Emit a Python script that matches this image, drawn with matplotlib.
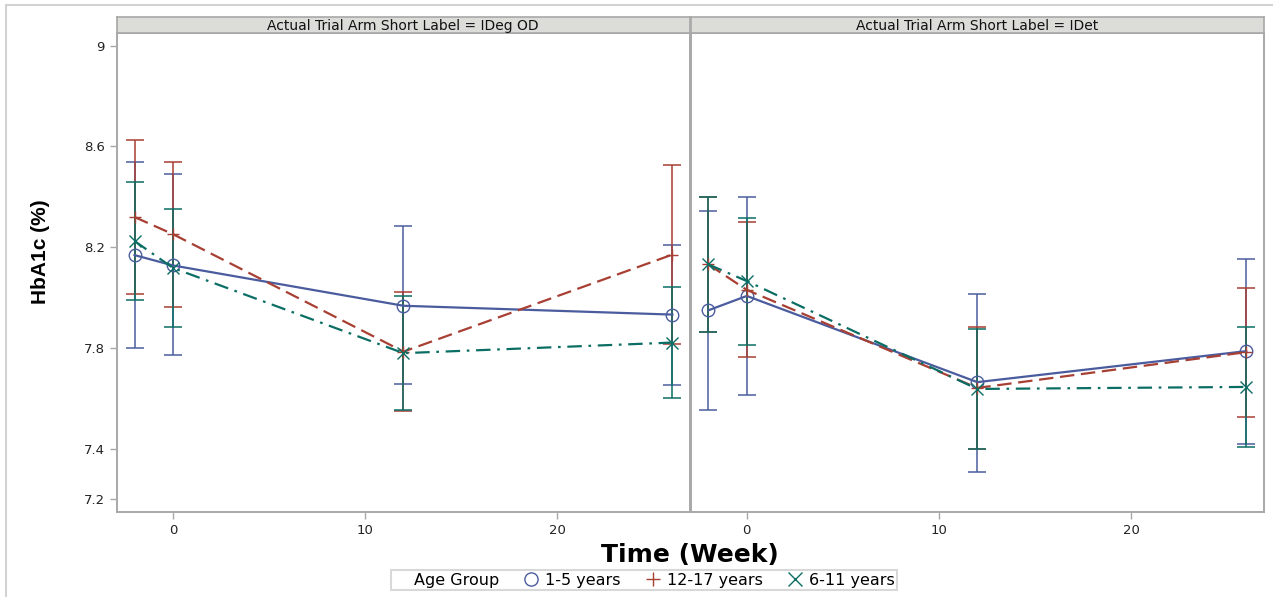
import matplotlib.pyplot as plt
from matplotlib.lines import Line2D
from matplotlib.patches import Rectangle

weeks = [-2, 0, 12, 26]
groups = ['1-5 years', '12-17 years', '6-11 years']
arms = ['IDeg OD', 'IDet']

# HbA1c mean and 95% CI per age group (rows follow `groups`)
ideg_mean = [[8.169, 8.128, 7.968, 7.933],
             [8.320, 8.252, 7.786, 8.171],
             [8.225, 8.118, 7.780, 7.822]]
ideg_lower = [[7.800, 7.772, 7.656, 7.655],
              [8.015, 7.963, 7.551, 7.815],
              [7.991, 7.884, 7.553, 7.602]]
ideg_upper = [[8.538, 8.490, 8.283, 8.210],
              [8.625, 8.540, 8.022, 8.527],
              [8.459, 8.352, 8.007, 8.042]]

idet_mean = [[7.950, 8.007, 7.665, 7.788],
             [8.132, 8.031, 7.642, 7.784],
             [8.132, 8.066, 7.638, 7.646]]
idet_lower = [[7.554, 7.614, 7.310, 7.421],
              [7.864, 7.764, 7.400, 7.527],
              [7.864, 7.814, 7.400, 7.408]]
idet_upper = [[8.345, 8.400, 8.015, 8.154],
              [8.400, 8.300, 7.882, 8.040],
              [8.400, 8.317, 7.876, 7.884]]

yticks = [7.2, 7.4, 7.8, 8.2, 8.6, 9]
ytick_labels = ['7.2', '7.4', '7.8', '8.2', '8.6', '9']
xticks = [0, 10, 20]

colors = ['#4A5C9E', '#A83F33', '#0B6E64']
markers = ['o', '+', 'x']
styles = ['-', (0, (6.5, 3)), (0, (6.5, 3, 1.2, 3))]
frame_gray = '#A8A8A8'

plt.rcParams['font.family'] = ['DejaVu Sans']

W, H = 1273, 597
fig = plt.figure(figsize=(W / 100, H / 100), dpi=100)

# light frame around the graph
fig.patches.append(Rectangle((6 / W, -0.1), 1.2, 1.1 - 5 / H, transform=fig.transFigure,
                             fill=False, edgecolor='#D2D2D2', linewidth=1.5))

pan_left = [116.7 / W, 690.5 / W]
pan_w = 573 / W
pan_bottom = (H - 511.7) / H
pan_h = (511.7 - 33.3) / H
strip_bottom = (H - 33.3) / H
strip_h = 16.6 / H

panels = [(ideg_mean, ideg_lower, ideg_upper), (idet_mean, idet_lower, idet_upper)]

for p, (mean, lower, upper) in enumerate(panels):
    ax = fig.add_axes([pan_left[p], pan_bottom, pan_w, pan_h])
    for g in range(len(groups)):
        m = mean[g]
        err = [[mv - lv for mv, lv in zip(m, lower[g])],
               [uv - mv for mv, uv in zip(m, upper[g])]]
        ax.errorbar(weeks, m, yerr=err, fmt='none', ecolor=colors[g],
                    elinewidth=1.1, capsize=6.2, capthick=1.1, zorder=2 + g * 0.1)
    for g in range(len(groups)):
        ax.plot(weeks, mean[g], color=colors[g], linestyle=styles[g], linewidth=1.6,
                marker=markers[g], markersize=9, markerfacecolor='none',
                markeredgewidth=1.0, zorder=3 + g * 0.1)

    ax.set_xlim(-2.93, 26.9)
    ax.set_ylim(7.151, 9.049)
    ax.set_xticks(xticks)
    ax.set_yticks(yticks)
    ax.set_yticklabels(ytick_labels)
    for s in ax.spines.values():
        s.set_color(frame_gray)
        s.set_linewidth(1.4)
    ax.tick_params(colors=frame_gray, labelcolor='#222222', labelsize=9.5,
                   length=5, width=1.0)
    if p == 1:
        ax.tick_params(axis='y', left=False, labelleft=False)

    # panel header strip
    sax = fig.add_axes([pan_left[p], strip_bottom, pan_w, strip_h])
    sax.set_facecolor('#DCDCD8')
    sax.set_xticks([])
    sax.set_yticks([])
    for s in sax.spines.values():
        s.set_color(frame_gray)
        s.set_linewidth(1.2)
    sax.text(0.5, 0.45, f'Actual Trial Arm Short Label = {arms[p]}', ha='center',
             va='center', fontsize=10, color='#111111', transform=sax.transAxes)

fig.text(40 / W, 1 - 252 / H, 'HbA1c (%)', rotation=90, ha='center', va='center',
         fontsize=15, fontweight='bold', family=['Liberation Sans', 'DejaVu Sans'])
fig.text(690 / W, 1 - 555 / H, 'Time (Week)', ha='center', va='center',
         fontsize=18, fontweight='bold')

handles = [Line2D([], [], linestyle='none', marker=None)]
handles += [Line2D([], [], linestyle='none', marker=markers[g], color=colors[g],
                   markerfacecolor='none', markersize=9.5, markeredgewidth=1.0)
            for g in range(len(groups))]
leg = fig.legend(handles, ['Age Group'] + groups, loc='center', ncol=4,
                 bbox_to_anchor=(644 / W, 1 - 580 / H), fontsize=11.5,
                 frameon=True, fancybox=False, handlelength=0.8,
                 handletextpad=0.5, columnspacing=1.6, borderpad=0.15,
                 borderaxespad=0)
leg.get_frame().set_edgecolor('#CFCFCF')
leg.get_frame().set_linewidth(1.5)

fig.savefig('out.png', dpi=100)
